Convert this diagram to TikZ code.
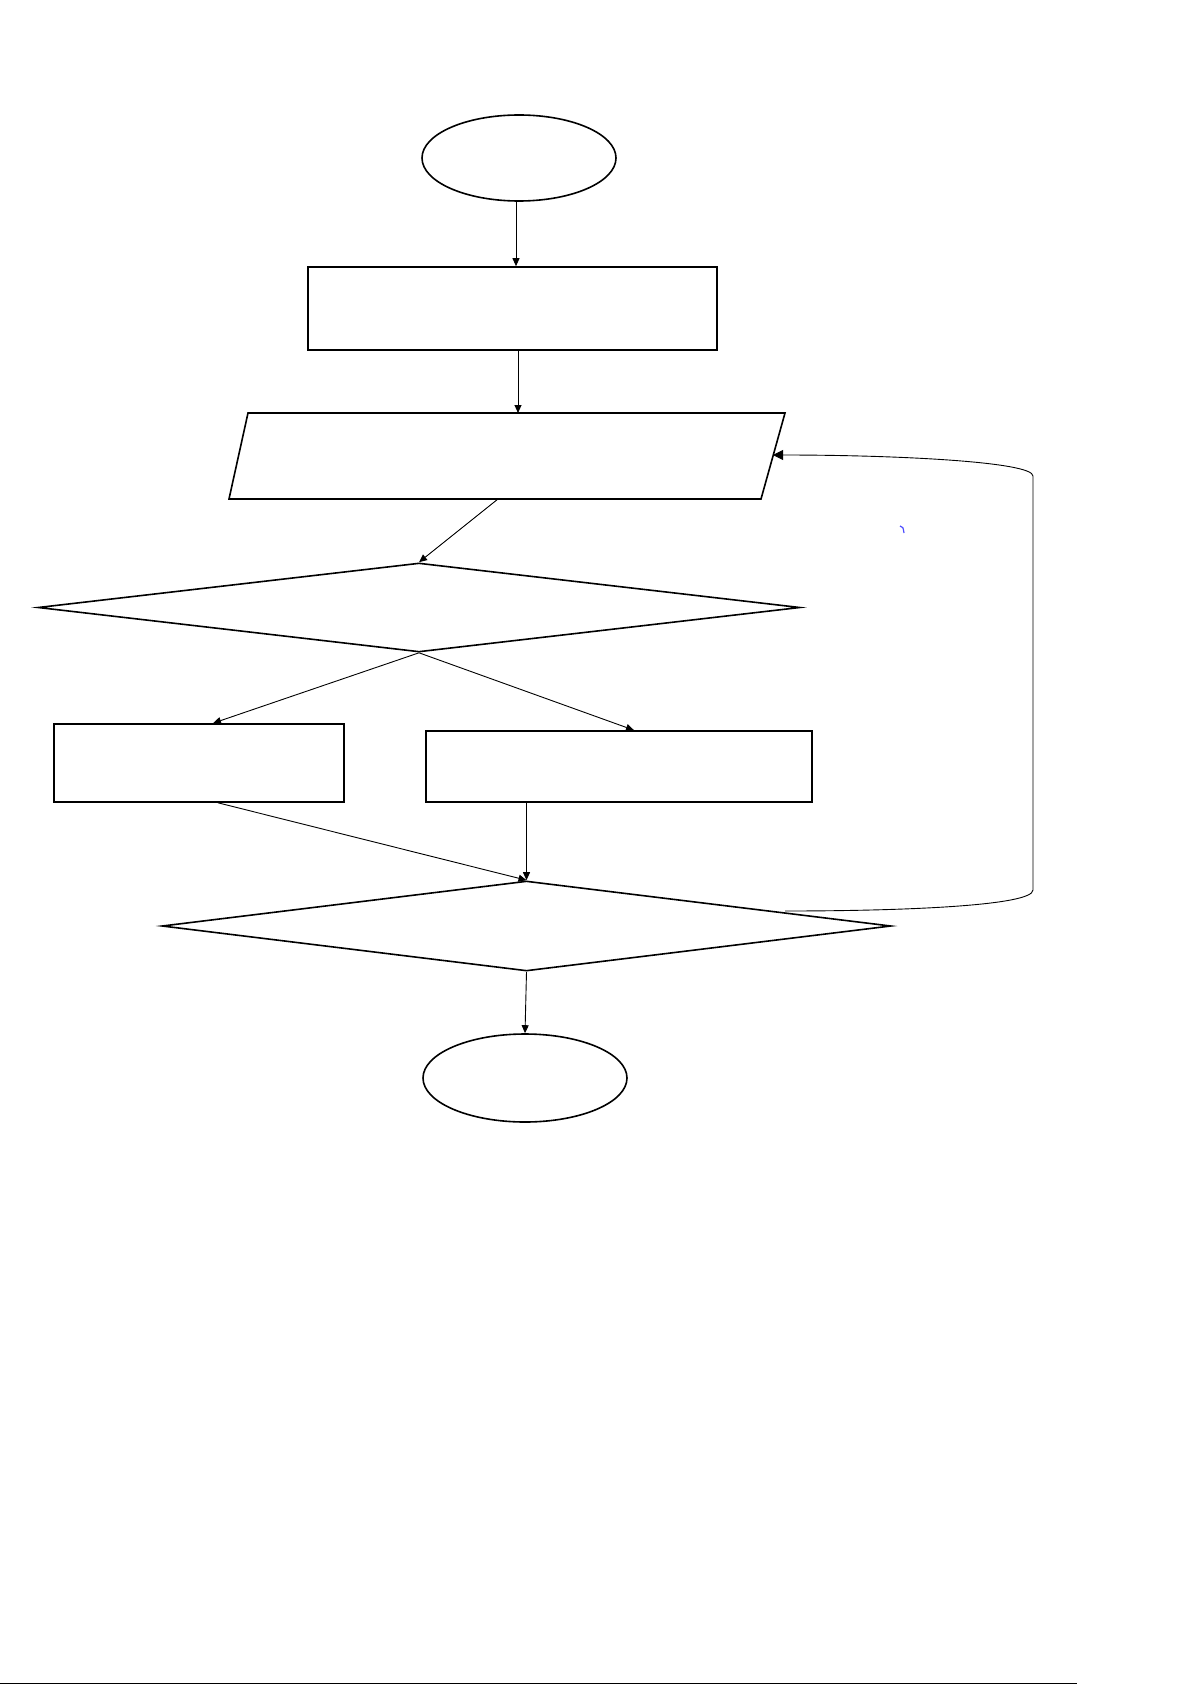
\documentclass[tikz,border=0pt]{standalone}
\usetikzlibrary{shapes.geometric,arrows.meta,calc}
\tikzset{
  shapeline/.style={draw=black,line width=1.6pt},
  termbox/.style={shapeline,ellipse,inner sep=0pt},
  procbox/.style={shapeline,rectangle,inner sep=0pt},
  decbox/.style={shapeline,diamond,inner sep=0pt},
  conn/.style={draw=black,line width=0.9pt,-{Triangle[length=8pt,width=7pt]}},
  loopconn/.style={draw=black,line width=0.9pt,-{Triangle[length=10pt,width=10pt]}},
}
\begin{document}
\begin{tikzpicture}[x=1pt,y=-1pt]
\useasboundingbox (0,0) rectangle (1192,1685);
% terminals
\node[termbox,minimum width=194pt,minimum height=86pt] (start) at (519,158) {};
\node[termbox,minimum width=204pt,minimum height=88pt] (stop) at (525,1078) {};
% process boxes
\node[procbox,minimum width=409pt,minimum height=83pt] (proc1) at (512.5,308.5) {};
\node[procbox,minimum width=290pt,minimum height=78pt] (procL) at (199,763) {};
\node[procbox,minimum width=386pt,minimum height=71pt] (procR) at (619,766.5) {};
% decisions
\node[decbox,minimum width=762pt,minimum height=89pt] (dec1) at (419,607.5) {};
\node[decbox,minimum width=729pt,minimum height=90pt] (dec2) at (526.5,926) {};
% input/output parallelogram
\draw[shapeline] (229,499) -- (248,413) -- (785,413) -- (761,499) -- cycle;
\coordinate (ioTop) at (518,413);
\coordinate (ioBot) at (498,499);
\coordinate (ioRight) at (773,455);
% connectors
\draw[conn] ($(start.south)+(-3,0)$) -- ($(start.south |- proc1.north)+(-3,0)$);
\draw[conn] ($(proc1.south)+(5.5,0)$) -- (ioTop);
\draw[conn] (ioBot) -- (dec1.north);
\draw[conn] (dec1.south) -- ($(procL.north)+(14,0)$);
\draw[conn] (dec1.south) -- ($(procR.north)+(15,0)$);
\draw[conn] ($(procL.south)+(19,0)$) -- (dec2.north);
\draw[conn] (procR.south -| dec2.north) -- (dec2.north);
\draw[conn] (dec2.south) -- (stop.north);
% loop back
\coordinate (loopStart) at (785,911);
\draw[loopconn] (loopStart) .. controls (900,911) and (1033,906) .. (1033,890)
  -- (1033,476) .. controls (1033,462) and (900,455) .. (ioRight);
% stray blue mark
\draw[blue!70,line width=1.2pt] (900,526) .. controls (903,527) .. (904,533);
% bottom rule
\draw[black,line width=1.6pt] (0,1683.5) -- (1077,1683.5);
\end{tikzpicture}
\end{document}
